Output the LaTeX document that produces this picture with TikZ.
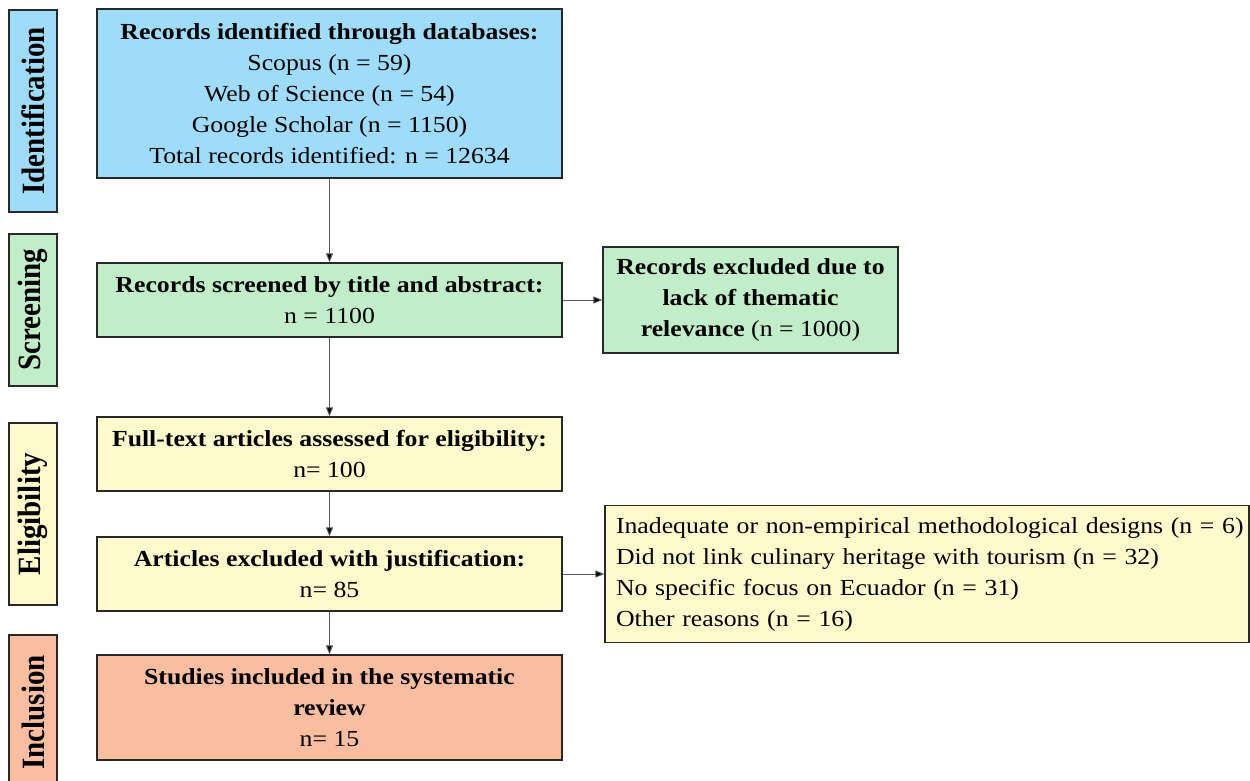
\documentclass[tikz,border=0pt]{standalone}
\usepackage{fontspec}
\setmainfont[FakeStretch=1.12]{Liberation Serif}
\newfontfamily\labelfont{Liberation Serif}
\usetikzlibrary{arrows.meta}
\definecolor{cblue}{RGB}{158,220,250}
\definecolor{cgreen}{RGB}{193,238,200}
\definecolor{cyellow}{RGB}{255,250,204}
\definecolor{csalmon}{RGB}{249,190,160}
\definecolor{cedge}{RGB}{40,40,40}
\definecolor{carrow}{RGB}{90,90,90}
\newcommand{\phasetext}[1]{\rotatebox{90}{\scalebox{1}[1.12]{#1}}}
\tikzset{
  box/.style={draw=cedge, line width=1.3pt, rectangle, inner sep=2pt, align=center,
    font=\fontsize{23}{31}\selectfont},
  phase/.style={draw=cedge, line width=1.3pt, rectangle, inner sep=0pt,
    minimum width=48pt, font=\labelfont\fontsize{29}{32}\selectfont\bfseries},
  conn/.style={draw=carrow, line width=0.9pt, -{Triangle[length=9pt,width=7pt,fill=black]}}
}
\begin{document}
\begin{tikzpicture}[x=1pt,y=-1pt]
\useasboundingbox (0,0) rectangle (1250,780);
\clip (0,0) rectangle (1250,780);
% phase labels
\node[phase, fill=cblue, minimum height=202pt] (pid) at (33,111) {\phasetext{Identification}};
\node[phase, fill=cgreen, minimum height=152pt] (psc) at (33,310) {\phasetext{Screening}};
\node[phase, fill=cyellow, minimum height=182pt] (pel) at (33,514) {\phasetext{Eligibility}};
\node[phase, fill=csalmon, minimum height=155pt] (pin) at (33,712.5) {\phasetext{Inclusion}};
% boxes
\node[box, fill=cblue, minimum width=465pt, minimum height=169pt] (b1) at (329.5,93.5)
  {\textbf{Records identified through databases:}\\Scopus (n = 59)\\Web of Science (n = 54)\\Google Scholar (n = 1150)\\Total records identified: n = 12634};
\node[box, fill=cgreen, minimum width=465pt, minimum height=74pt] (b2) at (329.5,300)
  {\textbf{Records screened by title and abstract:}\\n = 1100};
\node[box, fill=cgreen, minimum width=295pt, minimum height=106pt] (b3) at (750.5,300)
  {\textbf{Records excluded due to}\\\textbf{lack of thematic}\\\textbf{relevance} (n = 1000)};
\node[box, fill=cyellow, minimum width=465pt, minimum height=74pt] (b4) at (329.5,454)
  {\textbf{Full-text articles assessed for eligibility:}\\n= 100};
\node[box, fill=cyellow, minimum width=465pt, minimum height=74pt] (b5) at (329.5,574)
  {\textbf{Articles excluded with justification:}\\n= 85};
\node[box, fill=cyellow, minimum width=644pt, minimum height=137pt, align=left,
  inner xsep=0pt, text width=622pt] (b6) at (927,574)
  {\mbox{Inadequate or non-empirical methodological designs (n = 6)}\\Did not link culinary heritage with tourism (n = 32)\\No specific focus on Ecuador (n = 31)\\Other reasons (n = 16)};
\node[box, fill=csalmon, minimum width=465pt, minimum height=105pt] (b7) at (329.5,707.5)
  {\textbf{Studies included in the systematic}\\\textbf{review}\\n= 15};
% connectors
\draw[conn] (b1.south) -- (b2.north);
\draw[conn] (b2.south) -- (b4.north);
\draw[conn] (b4.south) -- (b5.north);
\draw[conn] (b5.south) -- (b7.north);
\draw[conn] (b2.east) -- (b3.west);
\draw[conn] (b5.east) -- (b6.west);
\end{tikzpicture}
\end{document}
